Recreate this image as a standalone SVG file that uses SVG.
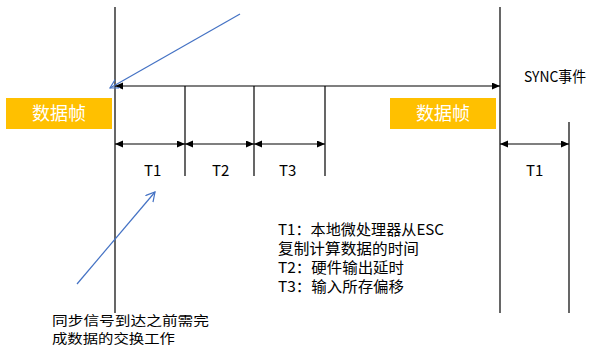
<svg xmlns="http://www.w3.org/2000/svg" width="591" height="346" viewBox="0 0 591 346">
<style>
.ln{stroke:#000;stroke-width:1.2;fill:none}
.bl{stroke:#4472C4;stroke-width:1.2;fill:none}
.frame{fill:#FFC000}
.ft{fill:#fff;font-family:"Noto Sans CJK SC","Liberation Sans",sans-serif;font-size:18px;text-anchor:middle}
.t{fill:#000;font-family:"Noto Sans CJK SC","Liberation Sans",sans-serif;font-size:15px}
.n{fill:#000;font-family:"Noto Sans CJK SC","Liberation Sans",sans-serif;font-size:13px}
</style>
<defs>
<marker id="ah" markerUnits="userSpaceOnUse" markerWidth="9" markerHeight="8" refX="8" refY="3.5" orient="auto-start-reverse">
<path d="M0,0 L8,3.5 L0,7 z" fill="#000"/>
</marker>
<marker id="ba" markerUnits="userSpaceOnUse" markerWidth="12" markerHeight="12" refX="9" refY="5" orient="auto">
<path d="M0,0 L9,5 L0,10" fill="none" stroke="#4472C4" stroke-width="1.2"/>
</marker>
</defs>
<rect width="591" height="346" fill="#fff"/>
<g id="timeline">
<line class="ln" x1="115" y1="7" x2="115" y2="313"/>
<line class="ln" x1="500" y1="7" x2="500" y2="313"/>
<line class="ln" x1="569" y1="122" x2="569" y2="313"/>
<line class="ln" x1="185" y1="86" x2="185" y2="176"/>
<line class="ln" x1="254" y1="86" x2="254" y2="176"/>
<line class="ln" x1="325" y1="86" x2="325" y2="176"/>
</g>
<g id="connectors">
<line class="ln" x1="115" y1="86" x2="500" y2="86" marker-start="url(#ah)" marker-end="url(#ah)"/>
<line class="ln" x1="115" y1="144" x2="185" y2="144" marker-start="url(#ah)" marker-end="url(#ah)"/>
<line class="ln" x1="185" y1="144" x2="254" y2="144" marker-start="url(#ah)" marker-end="url(#ah)"/>
<line class="ln" x1="254" y1="144" x2="325" y2="144" marker-start="url(#ah)" marker-end="url(#ah)"/>
<line class="ln" x1="500" y1="144" x2="569" y2="144" marker-start="url(#ah)" marker-end="url(#ah)"/>
<line class="bl" x1="240" y1="14" x2="110" y2="88" marker-end="url(#ba)"/>
<line class="bl" x1="77" y1="284" x2="155" y2="192" marker-end="url(#ba)"/>
</g>
<g id="frame1">
<rect class="frame" x="6" y="98" width="106" height="31"/>
<text class="ft" x="59" y="120">数据帧</text>
</g>
<g id="frame2">
<rect class="frame" x="390" y="98" width="106" height="31"/>
<text class="ft" x="443" y="120">数据帧</text>
</g>
<g id="labels">
<text class="t" x="524" y="82" textLength="62" lengthAdjust="spacingAndGlyphs">SYNC事件</text>
<text class="t" x="144" y="176">T1</text>
<text class="t" x="212" y="176">T2</text>
<text class="t" x="279" y="176">T3</text>
<text class="t" x="526" y="176">T1</text>
</g>
<g id="legend">
<text class="t" x="278" y="235" textLength="166" lengthAdjust="spacingAndGlyphs">T1：本地微处理器从ESC</text>
<text class="t" x="278" y="254" textLength="141" lengthAdjust="spacingAndGlyphs">复制计算数据的时间</text>
<text class="t" x="278" y="273" textLength="126" lengthAdjust="spacingAndGlyphs">T2：硬件输出延时</text>
<text class="t" x="278" y="292" textLength="126" lengthAdjust="spacingAndGlyphs">T3：输入所存偏移</text>
</g>
<g id="note">
<text class="n" x="52" y="325" textLength="157" lengthAdjust="spacingAndGlyphs">同步信号到达之前需完</text>
<text class="n" x="52" y="343" textLength="123" lengthAdjust="spacingAndGlyphs">成数据的交换工作</text>
</g>
</svg>
